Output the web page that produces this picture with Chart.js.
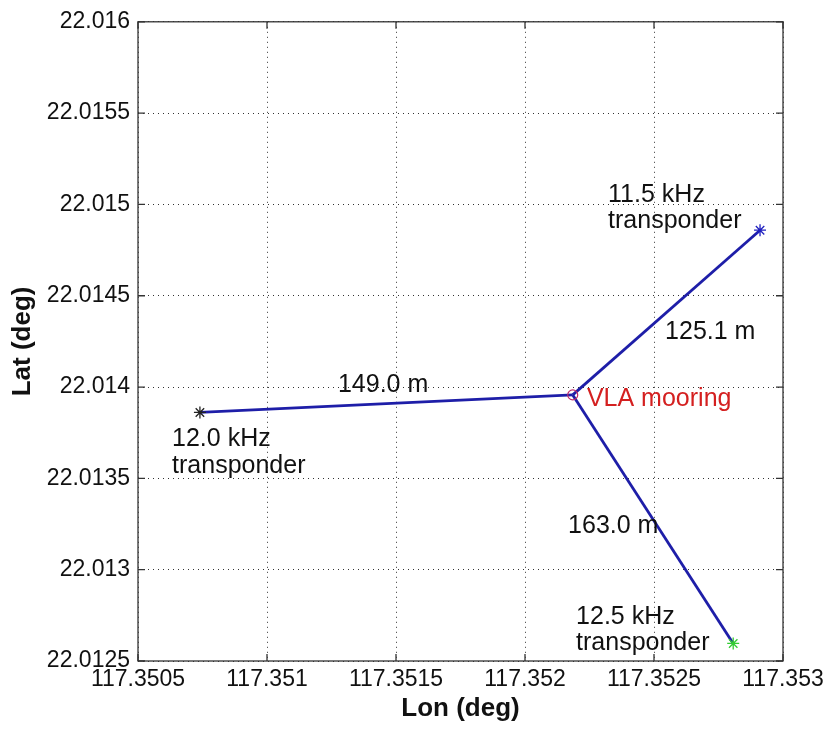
<!DOCTYPE html>
<html>
<head>
<meta charset="utf-8">
<script src="https://cdn.jsdelivr.net/npm/chart.js@4"></script>
<style>
  body { margin: 0; background: #fff; }
</style>
</head>
<body>
<canvas id="mapChart" width="831" height="729"></canvas>
<script>
// data
const lonTicks = [117.3505, 117.351, 117.3515, 117.352, 117.3525, 117.353];
const latTicks = [22.0125, 22.013, 22.0135, 22.014, 22.0145, 22.015, 22.0155, 22.016];

const vlaLon = [117.352185];
const vlaLat = [22.013957];

const siteNames = ['12.0 kHz transponder', '11.5 kHz transponder', '12.5 kHz transponder'];
const siteLon = [117.35074, 117.352911, 117.352807];
const siteLat = [22.013861, 22.014859, 22.012596];
const siteColors = ['#222222', '#2020c0', '#33cc33'];

// text labels, anchored at lon / lat
const noteText = ['12.0 kHz', 'transponder', '149.0 m', 'VLA mooring', '125.1 m',
  '163.0 m', '11.5 kHz', 'transponder', '12.5 kHz', 'transponder'];
const noteLon = [117.350632, 117.350632, 117.351275, 117.35224, 117.352543,
  117.352167, 117.352322, 117.352322, 117.352198, 117.352198];
const noteLat = [22.013714, 22.013567, 22.014013, 22.013932, 22.014302,
  22.01324, 22.015053, 22.014906, 22.01274, 22.012598];
const noteColors = ['#111', '#111', '#111', '#d42020', '#111', '#111', '#111', '#111', '#111', '#111'];

// segments VLA -> each transponder
const lineSets = siteLon.map((lon, i) => ({
  label: siteNames[i],
  data: [{ x: vlaLon[0], y: vlaLat[0] }, { x: lon, y: siteLat[i] }],
  showLine: true,
  borderColor: '#1e1ea8',
  borderWidth: 2.8,
  pointRadius: 0
}));

// box + inward ticks + notes
const frame = {
  id: 'frame',
  afterDatasetsDraw(chart) {
    const ctx = chart.ctx;
    const a = chart.chartArea;
    const sx = chart.scales.x, sy = chart.scales.y;
    ctx.save();
    ctx.strokeStyle = '#333';
    ctx.lineWidth = 1.3;
    ctx.strokeRect(a.left, a.top, a.right - a.left, a.bottom - a.top);
    ctx.beginPath();
    lonTicks.forEach(v => {
      const px = sx.getPixelForValue(v);
      ctx.moveTo(px, a.bottom); ctx.lineTo(px, a.bottom - 7);
      ctx.moveTo(px, a.top); ctx.lineTo(px, a.top + 7);
    });
    latTicks.forEach(v => {
      const py = sy.getPixelForValue(v);
      ctx.moveTo(a.left, py); ctx.lineTo(a.left + 7, py);
      ctx.moveTo(a.right, py); ctx.lineTo(a.right - 7, py);
    });
    ctx.stroke();

    ctx.font = '25px "Liberation Sans", Arial, sans-serif';
    ctx.textAlign = 'left';
    ctx.textBaseline = 'middle';
    noteText.forEach((t, i) => {
      ctx.fillStyle = noteColors[i];
      ctx.fillText(t, sx.getPixelForValue(noteLon[i]), sy.getPixelForValue(noteLat[i]));
    });
    ctx.restore();
  }
};

const tickFont = { family: '"Liberation Sans", Arial, sans-serif', size: 23 };
const titleFont = { family: '"Liberation Sans", Arial, sans-serif', size: 26, weight: 'bold' };

new Chart(document.getElementById('mapChart'), {
  type: 'scatter',
  data: {
    datasets: [
      {
        label: 'VLA mooring',
        data: vlaLon.map((x, i) => ({ x: x, y: vlaLat[i] })),
        pointStyle: 'circle',
        pointRadius: 5,
        borderColor: '#c02a6a',
        backgroundColor: 'rgba(0,0,0,0)',
        borderWidth: 1.2
      },
      {
        label: 'transponders',
        data: siteLon.map((x, i) => ({ x: x, y: siteLat[i] })),
        pointStyle: 'star',
        pointRadius: 6,
        borderColor: siteColors,
        backgroundColor: siteColors,
        borderWidth: 1.3
      },
      ...lineSets
    ]
  },
  options: {
    responsive: false,
    animation: false,
    layout: { padding: { top: 18, right: 48, bottom: 0, left: 0 } },
    plugins: {
      legend: { display: false },
      tooltip: { enabled: false }
    },
    scales: {
      x: {
        type: 'linear',
        min: lonTicks[0],
        max: lonTicks[lonTicks.length - 1],
        afterBuildTicks: s => { s.ticks = lonTicks.map(v => ({ value: v })); },
        afterFit: s => { s.height = 68; },
        ticks: {
          font: tickFont,
          color: '#111',
          padding: 5,
          maxRotation: 0,
          autoSkip: false,
          callback: (v, i) => String(lonTicks[i])
        },
        grid: {
          color: 'rgba(0,0,0,0.8)',
          lineWidth: 1,
          drawTicks: false
        },
        border: { display: false, dash: [1, 4] },
        title: { display: true, text: 'Lon (deg)', font: titleFont, color: '#111', padding: { top: 0, bottom: 5 } }
      },
      y: {
        type: 'linear',
        min: latTicks[0],
        max: latTicks[latTicks.length - 1],
        afterBuildTicks: s => { s.ticks = latTicks.map(v => ({ value: v })); },
        afterFit: s => { s.width = 138; },
        ticks: {
          font: tickFont,
          color: '#111',
          padding: 8,
          autoSkip: false,
          callback: (v, i) => String(latTicks[i])
        },
        grid: {
          color: 'rgba(0,0,0,0.8)',
          lineWidth: 1,
          drawTicks: false
        },
        border: { display: false, dash: [1, 4] },
        title: { display: true, text: 'Lat (deg)', font: titleFont, color: '#111', padding: { top: 7, bottom: 0 } }
      }
    }
  },
  plugins: [frame]
});
</script>
</body>
</html>
